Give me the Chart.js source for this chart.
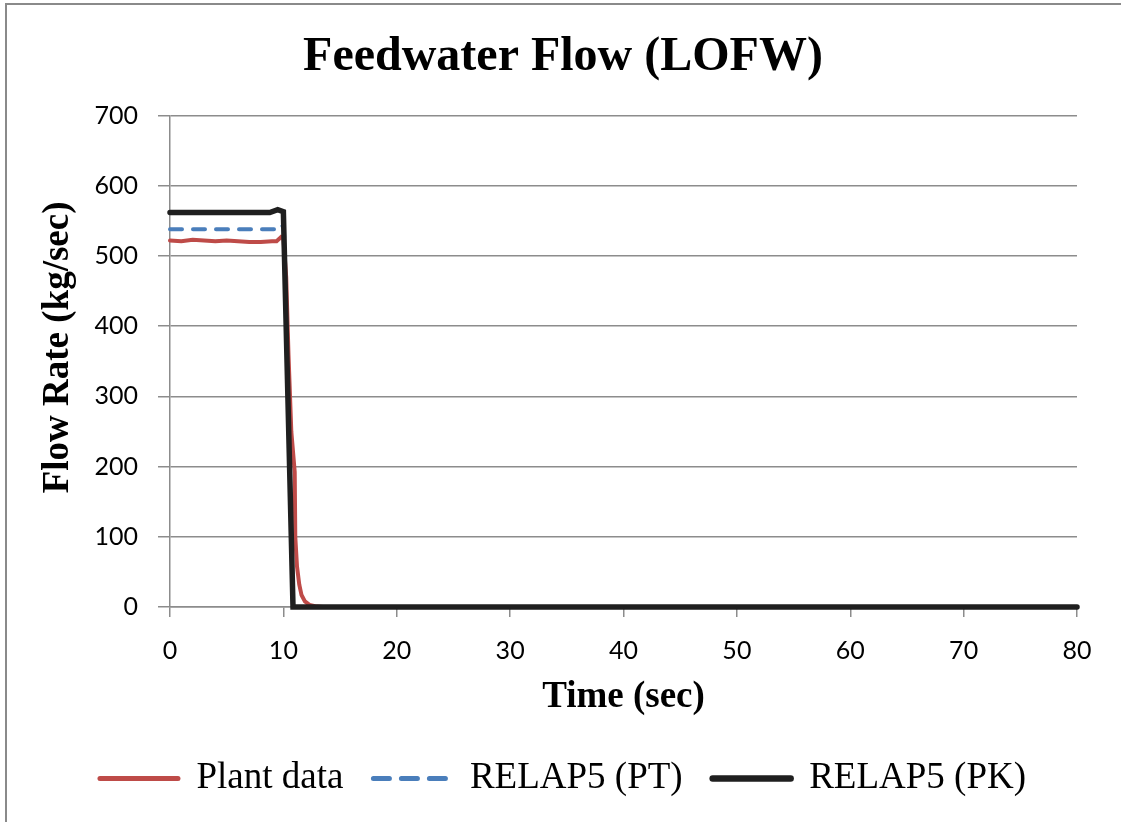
<!DOCTYPE html>
<html>
<head>
<meta charset="utf-8">
<script src="https://cdn.jsdelivr.net/npm/chart.js@4/dist/chart.umd.min.js"></script>
<style>
  html, body { margin: 0; padding: 0; background: #fff; overflow: hidden; }
  .frame {
    position: absolute; left: 5px; top: 3px; width: 2000px; height: 2000px;
    border-left: 2px solid #8a8a8a; border-top: 2px solid #8a8a8a;
  }
  .wrap { position: absolute; left: 0; top: 0; width: 1121px; height: 822px; }
</style>
</head>
<body>
<div class="frame"></div>
<div class="wrap"><canvas id="flowChart"></canvas></div>
<script>
// Plant data (kg/sec vs sec)
const plantTime = [0, 1, 2, 3, 4, 5, 6, 7, 8, 9, 9.4, 9.8, 10.0, 10.25, 10.45, 10.7, 11.0, 11.05, 11.2, 11.4, 11.6, 11.9, 12.3, 12.8, 13.5, 20, 30, 40, 50, 60, 70, 80];
const plantFlow = [522, 521, 523, 522, 521, 522, 521, 520, 520, 521, 521, 527, 525, 470, 360, 250, 192, 100, 58, 32, 17, 8, 3, 1, 0, 0, 0, 0, 0, 0, 0, 0];

// RELAP5 (PT)
const ptTime = [0, 9.3, 9.8, 10.05, 10.85, 20, 30, 40, 50, 60, 70, 80];
const ptFlow = [538, 538, 545, 540, 0, 0, 0, 0, 0, 0, 0, 0];

// RELAP5 (PK)
const pkTime = [0, 8.8, 9.5, 10.0, 10.85, 20, 30, 40, 50, 60, 70, 80];
const pkFlow = [562, 562, 566, 563, 0, 0, 0, 0, 0, 0, 0, 0];

const toPoints = (xs, ys) => xs.map((x, i) => ({ x: x, y: ys[i] }));

const gridGray = '#8c8c8c';
const serif = 'Liberation Serif';

const ctx = document.getElementById('flowChart').getContext('2d');

new Chart(ctx, {
  type: 'line',
  data: {
    datasets: [
      {
        label: 'Plant data',
        data: toPoints(plantTime, plantFlow),
        borderColor: '#be4b48',
        borderWidth: 4,
        borderCapStyle: 'round',
        order: 3
      },
      {
        label: 'RELAP5 (PT)',
        data: toPoints(ptTime, ptFlow),
        borderColor: '#4a7ebb',
        borderWidth: 4,
        borderDash: [12, 11],
        borderCapStyle: 'round',
        order: 2
      },
      {
        label: 'RELAP5 (PK)',
        data: toPoints(pkTime, pkFlow),
        borderColor: '#1f1f1f',
        borderWidth: 5.5,
        borderCapStyle: 'round',
        order: 1
      }
    ]
  },
  options: {
    responsive: true,
    maintainAspectRatio: false,
    animation: false,
    datasets: {
      line: { pointRadius: 0, tension: 0, clip: false, fill: false }
    },
    layout: { padding: { left: 49, right: 44, top: 0, bottom: 15 } },
    plugins: {
      title: {
        display: true,
        text: 'Feedwater Flow (LOFW)',
        color: '#000',
        font: { family: serif, size: 48, weight: 'bold' },
        padding: { top: 29, bottom: 29 }
      },
      legend: {
        position: 'bottom',
        labels: {
          usePointStyle: true,
          pointStyle: 'line',
          pointStyleWidth: 78,
          padding: 30,
          color: '#000',
          font: { family: serif, size: 37 },
          sort: (a, b) => a.datasetIndex - b.datasetIndex,
          generateLabels: (chart) => chart.data.datasets.map((ds, i) => ({
            text: ds.label,
            datasetIndex: i,
            strokeStyle: ds.borderColor,
            fillStyle: ds.borderColor,
            lineWidth: ds.borderWidth + 1,
            lineDash: ds.borderDash ? [16, 12] : [],
            lineCap: 'round',
            pointStyle: 'line',
            fontColor: '#000',
            hidden: false
          }))
        }
      },
      tooltip: { enabled: false }
    },
    scales: {
      x: {
        type: 'linear',
        min: 0,
        max: 80,
        ticks: {
          stepSize: 10,
          color: '#000',
          padding: 19,
          font: { family: 'Lato', size: 25 }
        },
        grid: { drawOnChartArea: false, color: gridGray, lineWidth: 1.5, tickLength: 10 },
        border: { display: true, color: gridGray, width: 1.5 },
        title: {
          display: true,
          text: 'Time (sec)',
          color: '#000',
          font: { family: serif, size: 37, weight: 'bold' },
          padding: { top: 0, bottom: 10 }
        },
        afterFit: (axis) => { axis.height = 123; }
      },
      y: {
        min: 0,
        max: 700,
        ticks: {
          stepSize: 100,
          color: '#000',
          padding: 20,
          font: { family: 'Lato', size: 25 }
        },
        grid: { color: gridGray, lineWidth: 1.5, tickLength: 12 },
        border: { display: true, color: gridGray, width: 1.5 },
        title: {
          display: true,
          text: '\u00a0\u00a0\u00a0Flow Rate (kg/sec)',
          color: '#000',
          font: { family: serif, size: 37, weight: 'bold' },
          padding: { top: -13, bottom: 0 }
        },
        afterFit: (axis) => { axis.width = 121; }
      }
    }
  }
});
</script>
</body>
</html>
